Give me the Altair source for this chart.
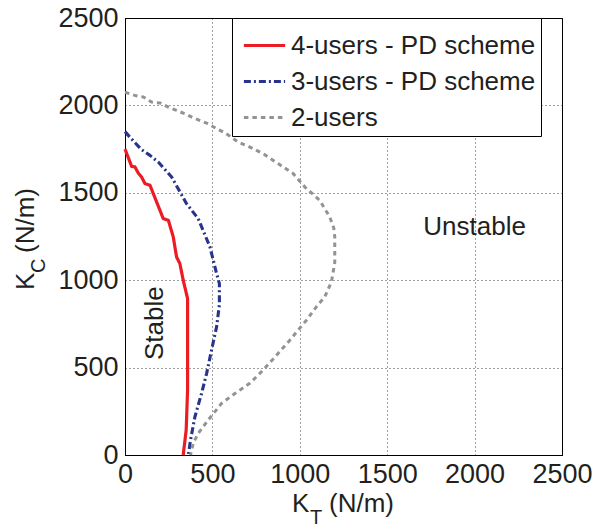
import altair as alt
import pandas as pd

# Stability boundaries in the (K_T, K_C) gain plane, both in N/m
series_names = ["4-users - PD scheme", "3-users - PD scheme", "2-users"]
series_colors = ["#ED1C24", "#28338E", "#939393"]
series_dashes = [[1, 0], [7, 3, 2, 3], [4.5, 4]]
series_widths = [3.2, 3, 5.5]

kt_4users = [0, 38, 57, 76, 95, 114, 143, 162, 219, 248, 276, 295, 314, 333, 358, 358, 350, 333]
kc_4users = [1750, 1651, 1648, 1613, 1590, 1553, 1543, 1495, 1352, 1343, 1248, 1133, 1095, 1000, 895, 371, 143, 0]

kt_3users = [0, 48, 95, 143, 190, 267, 352, 419, 486, 524, 540, 540, 524, 495, 467, 438, 400, 375, 362]
kc_3users = [1850, 1796, 1747, 1714, 1676, 1590, 1438, 1352, 1190, 1038, 980, 860, 733, 600, 467, 352, 219, 86, 0]

kt_2users = [0, 57, 105, 152, 200, 248, 295, 343, 390, 438, 476, 524, 571, 648, 705, 790, 876, 962,
             1029, 1114, 1171, 1194, 1200, 1200, 1181, 1143, 1095, 1038, 990, 943, 867, 790, 714,
             629, 552, 476, 419, 390, 375]
kc_2users = [2075, 2057, 2048, 2019, 2014, 1990, 1971, 1952, 1929, 1910, 1895, 1867, 1844, 1790, 1766,
             1724, 1667, 1610, 1533, 1457, 1362, 1300, 1250, 1100, 990, 905, 848, 771, 714, 657, 571,
             486, 410, 352, 295, 200, 124, 67, 0]

axis_ticks = [0, 500, 1000, 1500, 2000, 2500]

# Region labels placed in data units
region_text = ["Unstable", "Stable"]
region_kt = [2000, 217]
region_kc = [1257, 754]
region_angle = [0, 270]

FONT = "Liberation Sans"
INK = "#231F20"

rows = []
for name, xs, ys in zip(series_names,
                        [kt_4users, kt_3users, kt_2users],
                        [kc_4users, kc_3users, kc_2users]):
    for i, (x, y) in enumerate(zip(xs, ys)):
        rows.append({"series": name, "kt": x, "kc": y, "idx": i})
curves = pd.DataFrame(rows)

# Non-breaking spaces widen the legend box on its right side
legend = alt.Legend(
    title=None, orient="none", legendX=107, legendY=0,
    fillColor="white", strokeColor="black", padding=5, symbolOffset=5,
    labelFont=FONT, labelFontSize=26, labelColor=INK, labelOffset=4, labelLimit=500,
    labelExpr="datum.label + '\u00a0\u00a0'",
    symbolType="stroke", symbolSize=1700, rowPadding=-5,
)

x_enc = alt.X("kt:Q", scale=alt.Scale(domain=[0, 2500], nice=False),
              axis=alt.Axis(values=axis_ticks, format="d", title=None, labelPadding=6))
y_enc = alt.Y("kc:Q", scale=alt.Scale(domain=[0, 2500], nice=False),
              axis=alt.Axis(values=axis_ticks, format="d", title=None, labelPadding=7))

lines = alt.Chart(curves).mark_line(strokeCap="butt", strokeJoin="round").encode(
    x=x_enc,
    y=y_enc,
    color=alt.Color("series:N", scale=alt.Scale(domain=series_names, range=series_colors), legend=legend),
    strokeDash=alt.StrokeDash("series:N", scale=alt.Scale(domain=series_names, range=series_dashes), legend=legend),
    strokeWidth=alt.StrokeWidth("series:N", scale=alt.Scale(domain=series_names, range=series_widths), legend=legend),
    order=alt.Order("idx:Q"),
)

regions = pd.DataFrame({"text": region_text, "kt": region_kt, "kc": region_kc, "angle": region_angle})
region_labels = alt.Chart(regions).mark_text(
    font=FONT, fontSize=26, color=INK, align="center", baseline="alphabetic"
).encode(
    x=alt.X("kt:Q"), y=alt.Y("kc:Q"), text="text:N", angle=alt.Angle("angle:Q", scale=None)
)


def label(txt, x, y, size, angle=0):
    return alt.Chart(pd.DataFrame({"t": [txt]})).mark_text(
        font=FONT, fontSize=size, color=INK, align="left", baseline="alphabetic", angle=angle
    ).encode(text="t:N", x=alt.value(x), y=alt.value(y))


# Axis titles with subscripts: K_T along the bottom, K_C rotated on the left
titles = [
    label("K", 167, 494, 26),
    label("T", 185, 506, 20),
    label("(N/m)", 204, 494, 26),
    label("K", -91, 272, 26, 270),
    label("C", -80, 255, 20, 270),
    label("(N/m)", -91, 235, 26, 270),
]

chart = alt.layer(lines, region_labels, *titles).properties(
    width=437, height=437,
    autosize=alt.AutoSizeParams(type="none"),
    padding={"left": 125, "top": 18, "right": 33, "bottom": 74},
).configure_view(
    stroke="black", strokeWidth=1
).configure_axis(
    labelFont=FONT, labelFontSize=27, labelColor=INK,
    domainColor="black", domainWidth=1,
    ticks=False, grid=True, gridColor="black", gridDash=[1, 3], gridOpacity=0.75, gridWidth=1,
    labelFlush=False, labelOverlap=False, labelBound=False,
)

chart.save("out.html", embed_options={"renderer": "svg", "actions": False})
